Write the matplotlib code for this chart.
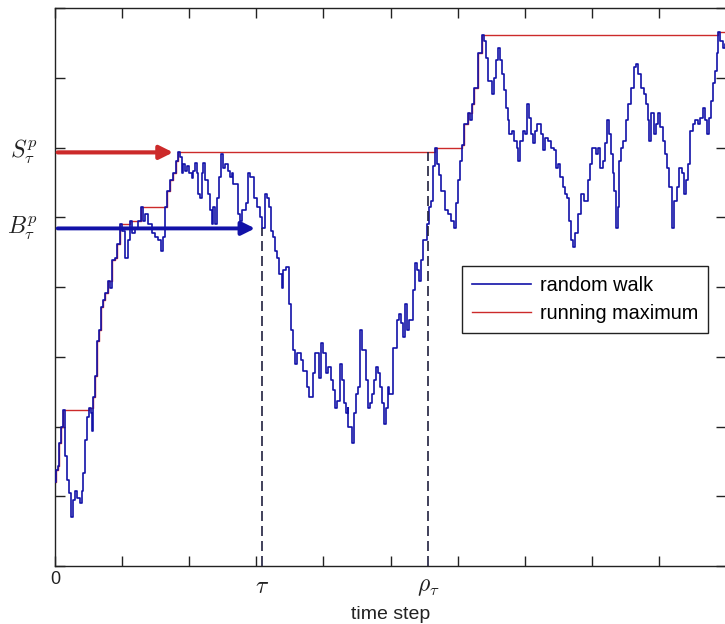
import numpy as np
import matplotlib
matplotlib.use("Agg")
import matplotlib.pyplot as plt

plt.rcParams['font.family'] = ['Liberation Sans', 'DejaVu Sans']
plt.rcParams['mathtext.fontset'] = 'cm'

# ---- random walk (time step, level) ----
steps = [0, 1, 4, 6, 9, 12, 15, 18, 21, 24, 27, 30, 33, 37, 40, 42, 45, 48, 51, 54,
         55, 57, 60, 63, 66, 69, 72, 75, 79, 82, 85, 90, 93, 97, 100, 104, 109, 112, 115, 119,
         124, 128, 131, 134, 139, 145, 149, 154, 158, 161, 164, 167, 172, 176, 181, 184,
         187, 190, 191, 194, 197, 199, 204, 206, 209, 212, 213, 216, 219, 221, 224, 228,
         231, 234, 236, 239, 242, 245, 248, 251, 254, 258, 261, 264, 266, 272, 273, 276,
         279, 284, 287, 288, 291, 296, 301, 306, 309, 313, 316, 319, 322, 325, 328, 331,
         334, 339, 340, 345, 348, 351,
         354, 358, 361, 366, 370, 376, 379, 384, 388, 393, 397, 400, 404, 407, 412, 415,
         418, 421, 424, 427, 430, 433, 436, 437, 442, 445, 448, 451, 455, 458, 463, 466,
         469, 473, 476, 479, 482, 485, 488, 490, 493, 496, 498, 503, 504, 509, 512, 515,
         518, 521, 525, 528, 533, 536, 540, 543, 546, 549, 554, 557, 560, 563, 566, 569,
         572, 576, 581, 585, 590, 594, 597, 600, 604, 607, 610, 615, 618, 622, 625, 630,
         631, 636, 639, 642, 645, 646, 651, 654, 657, 660, 663, 666, 669, 672, 675, 676,
         681, 684, 688, 690, 693, 697, 700, 704, 707, 710, 713, 716, 719, 724, 727, 730,
         734, 739, 743, 746, 749, 752, 757, 760, 763, 766, 769, 772, 775, 779, 784, 788,
         794, 798, 801, 806, 809, 812, 816, 819, 822, 825, 828, 831, 833, 836, 839, 840,
         843, 846, 851, 854, 858, 863, 866, 869, 873, 878, 881, 884, 885, 888, 893, 896,
         898, 901, 906, 909, 912, 915, 919, 922, 927, 930, 934, 937, 940, 943, 946, 951,
         954, 958, 961, 966, 969, 972, 975, 978, 981, 984, 987, 988, 991, 995, 998, 1000]
walk = [-8.0, -6.3, -5.6, -2.4, -0.1, 2.3, -4.2, -7.7, -9.6, -13.0, -10.6, -9.2, -10.2, -11.0, -9.2, -6.7, -2.0, 1.3, 2.6, 1.9,
        -0.6, 4.2, 7.3, 12.3, 13.8, 17.1, 18.1, 19.1, 20.9, 19.9, 23.8, 24.2, 26.2, 29.1, 28.1, 24.2, 26.7, 29.5, 27.7, 28.5,
        29.5, 31.4, 29.5, 30.5, 29.1, 27.7, 27.1, 26.7, 25.2, 27.1, 31.4, 33.8, 35.3, 36.3, 38.1, 39.3,
        38.6, 36.3, 37.7, 36.7, 37.4, 36.3, 35.6, 36.7, 37.8, 36.3, 33.4, 32.8, 36.3, 37.8, 35.3, 33.4,
        31.0, 29.1, 31.4, 29.1, 32.8, 35.7, 39.1, 37.1, 37.7, 36.7, 35.7, 36.3, 34.8, 32.8, 30.5, 29.5,
        31.0, 32.0, 34.3, 36.3, 35.7, 32.8, 31.4, 30.0, 28.4, 33.4, 32.8, 31.4, 28.1, 27.1, 25.2, 24.2,
        21.9, 19.9, 22.4, 22.8, 17.6, 13.8,
        10.9, 9.0, 10.5, 9.5, 8.0, 5.6, 4.2, 7.6, 10.5, 7.0, 11.9, 10.5, 7.6, 8.5, 6.6, 5.2,
        2.7, 3.7, 9.0, 6.6, 3.3, 1.9, 2.7, -0.1, -2.4, 1.9, 4.7, 5.6, 13.8, 10.9, 6.6, 2.7,
        3.3, 4.7, 6.6, 8.5, 7.6, 5.6, 3.3, 0.4, 2.7, 5.6, 4.7, 8.5, 11.3, 15.2, 16.2, 14.8,
        12.8, 17.6, 13.8, 15.2, 19.5, 23.4, 22.4, 20.9, 23.8, 26.7, 29.1, 31.4, 32.4, 37.4, 40.0, 37.7,
        36.0, 33.8, 31.0, 30.5, 29.5, 28.5, 32.0, 35.3, 38.1, 40.3, 43.4, 44.9, 43.9, 46.3, 48.6, 50.6,
        53.5, 56.1, 55.3, 52.9, 52.0, 49.6, 47.7, 50.0, 52.5, 54.3, 52.5, 50.6, 48.2, 45.7, 43.9, 42.0,
        42.4, 41.0, 40.0, 38.1, 41.0, 42.4, 42.0, 46.3, 44.3, 42.0, 40.6, 42.4, 43.4, 42.0, 39.6, 41.4,
        41.0, 40.0, 39.6, 37.1, 37.7, 35.7, 34.3, 33.4, 32.8, 29.5, 26.7, 25.7, 27.7, 30.5, 33.4, 32.4,
        35.3, 37.7, 40.0, 39.1, 40.0, 37.1, 38.1, 40.6, 43.9, 42.0, 39.1, 36.3, 33.8, 28.5, 31.4, 38.1,
        40.0, 41.0, 43.9, 46.3, 48.6, 51.5, 52.0, 50.6, 48.6, 47.7, 46.3, 43.9, 41.0, 44.9, 42.0, 43.4,
        44.9, 42.9, 41.0, 39.1, 37.1, 34.3, 28.5, 32.4, 34.3, 37.1, 36.3, 33.4, 35.3, 37.7, 42.4, 43.4,
        43.9, 43.4, 44.3, 45.7, 43.9, 42.0, 44.3, 46.7, 49.2, 51.0, 53.5, 56.5, 55.3, 54.3, 54.9, 54.6]

# stopping times marked on the time axis
tau = 309
rho = 556
# arrow tips for the two levels
s_arrow_end = 176
b_arrow_end = 298

xticks = [0, 100, 200, 300, 400, 500, 600, 700, 800, 900, 1000]
yticks = [-20, -10, 0, 10, 20, 30, 40, 50, 60]

steps = np.array(steps)
walk = np.array(walk)
run_max = np.maximum.accumulate(walk)

i_tau = np.searchsorted(steps, tau)
B_level = walk[i_tau]
S_level = run_max[i_tau]

WALK_C = '#1212a8'
MAX_C = '#cc2a2a'
INK = '#222222'

fig = plt.figure(figsize=(7.25, 6.24), dpi=100, facecolor='white')
ax = fig.add_axes([55/725, 58/624, 671/725, 558/624])

ax.plot(steps, walk, color=WALK_C, lw=1.2, drawstyle='steps-post', label='random walk', zorder=3)
ax.plot(steps, run_max, color=MAX_C, lw=1.0, drawstyle='steps-post', label='running maximum', zorder=2)

ax.set_xlim(0, 1000)
ax.set_ylim(-20, 60)

# dashed markers for tau and rho_tau
ax.plot([tau, tau], [-20, B_level], color='#202040', lw=1.2, ls=(0, (6, 3)), zorder=4)
ax.plot([rho, rho], [-20, S_level], color='#202040', lw=1.2, ls=(0, (6, 3)), zorder=4)

# arrows pointing at the two levels
ax.annotate('', xy=(s_arrow_end, S_level), xytext=(4, S_level),
            arrowprops=dict(arrowstyle='-|>', color=MAX_C, lw=3, mutation_scale=20,
                            shrinkA=0, shrinkB=0), zorder=5)
ax.annotate('', xy=(b_arrow_end, B_level), xytext=(4, B_level),
            arrowprops=dict(arrowstyle='-|>', color=WALK_C, lw=2.8, mutation_scale=20,
                            shrinkA=0, shrinkB=0), zorder=5)

ax.text(-26, S_level, r'$S_\tau^p$', fontsize=17, ha='right', va='center', color=INK)
ax.text(-26, B_level, r'$B_\tau^p$', fontsize=17, ha='right', va='center', color=INK)

# ticks on every side, pointing inward; only the origin keeps its number
ax.set_xticks(xticks)
ax.set_yticks(yticks)
ax.tick_params(direction='in', length=7, width=1, colors=INK, top=True, right=True,
               labelsize=13)
ax.set_xticklabels(['0'] + ['' for _ in xticks[1:]])
ax.set_yticklabels(['' for _ in yticks])
for sp in ax.spines.values():
    sp.set_color(INK)
    sp.set_linewidth(1.0)

ax.text(tau, -23.0, r'$\tau$', fontsize=17, ha='center', va='center', color=INK)
ax.text(rho, -23.0, r'$\rho_\tau$', fontsize=17, ha='center', va='center', color=INK)
ax.set_xlabel('time step', fontsize=14, color=INK, labelpad=13)

leg = ax.legend(loc='upper left', bbox_to_anchor=(0.606, 0.538), borderaxespad=0,
                fontsize=14.3, handlelength=3.0, handletextpad=0.45, labelspacing=0.45,
                borderpad=0.5, fancybox=False, framealpha=1)
leg.get_frame().set_edgecolor(INK)
leg.get_frame().set_linewidth(1.0)

fig.savefig('out.png', dpi=100, facecolor='white')
